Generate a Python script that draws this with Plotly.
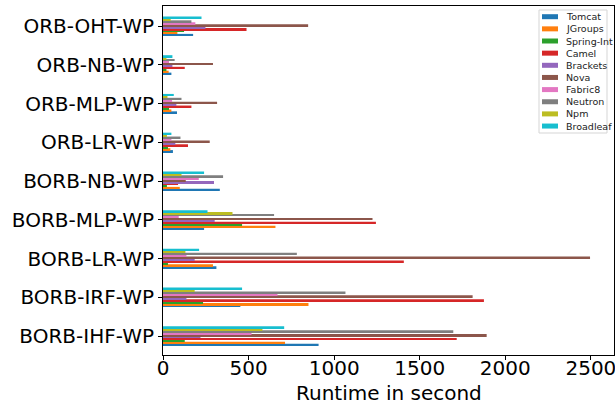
import plotly.graph_objects as go

categories = ["BORB-IHF-WP", "BORB-IRF-WP", "BORB-LR-WP", "BORB-MLP-WP", "BORB-NB-WP",
              "ORB-LR-WP", "ORB-MLP-WP", "ORB-NB-WP", "ORB-OHT-WP"]

tomcat = [909, 452, 312, 240, 332, 58, 82, 49, 176]
jgroups = [713, 850, 292, 657, 98, 43, 49, 33, 84]
spring_int = [127, 234, 29, 462, 23, 29, 35, 20, 123]
camel = [1716, 1875, 1407, 1244, 88, 146, 166, 127, 488]
brackets = [219, 137, 185, 302, 298, 72, 78, 55, 248]
nova = [1891, 1809, 2495, 1224, 133, 273, 316, 292, 848]
fabric8 = [517, 669, 137, 92, 209, 49, 53, 35, 189]
neutron = [1696, 1066, 782, 649, 351, 102, 108, 68, 166]
npm = [581, 185, 131, 406, 108, 23, 26, 20, 45]
broadleaf = [708, 462, 211, 260, 240, 49, 63, 55, 225]

series = [
    ("Tomcat", tomcat, "#1f77b4"),
    ("JGroups", jgroups, "#ff7f0e"),
    ("Spring-Int", spring_int, "#2ca02c"),
    ("Camel", camel, "#d62728"),
    ("Brackets", brackets, "#9467bd"),
    ("Nova", nova, "#8c564b"),
    ("Fabric8", fabric8, "#e377c2"),
    ("Neutron", neutron, "#7f7f7f"),
    ("Npm", npm, "#bcbd22"),
    ("Broadleaf", broadleaf, "#17becf"),
]

W, H = 615, 408
L, R, T, B = 163, 1, 6, 53
pw, ph = W - L - R, H - T - B


def px_x(x):
    return (x - L) / pw


def px_y(y):
    return (H - B - y) / ph


fig = go.Figure()
for name, vals, color in series:
    fig.add_trace(go.Bar(
        y=list(range(len(categories))),
        x=vals,
        name=name,
        orientation="h",
        marker=dict(color=color, line=dict(width=0)),
        showlegend=False,
    ))

# matplotlib-style legend box (compact)
shapes = [dict(type="rect", xref="paper", yref="paper",
               x0=px_x(539), x1=px_x(607), y0=px_y(133), y1=px_y(10),
               fillcolor="white", line=dict(color="#d5d5d5", width=1), layer="above")]
annotations = []
for i, (name, _, color) in enumerate(series):
    yc = 16.7 + 12.15 * i
    shapes.append(dict(type="rect", xref="paper", yref="paper",
                       x0=px_x(542), x1=px_x(558), y0=px_y(yc + 2.5), y1=px_y(yc - 2.5),
                       fillcolor=color, line=dict(width=0), layer="above"))
    annotations.append(dict(xref="paper", yref="paper", x=px_x(564), y=px_y(yc),
                            text=name, showarrow=False, xanchor="left", yanchor="middle",
                            font=dict(size=9.5, color="#222")))

# x-axis title placed like matplotlib's xlabel
annotations.append(dict(xref="paper", yref="paper", x=0.5, y=px_y(393),
                        text="Runtime in second", showarrow=False,
                        xanchor="center", yanchor="middle",
                        font=dict(size=20, color="black")))

fig.update_layout(
    width=W,
    height=H,
    margin=dict(l=L, r=R, t=T, b=B, autoexpand=False),
    plot_bgcolor="white",
    paper_bgcolor="white",
    barmode="group",
    bargap=0.5,
    bargroupgap=0,
    font=dict(family="DejaVu Sans", color="black"),
    shapes=shapes,
    annotations=annotations,
)
fig.update_xaxes(
    range=[0, 2635],
    tickvals=[0, 500, 1000, 1500, 2000, 2500],
    tickfont=dict(size=20),
    ticklabeloverflow="allow",
    ticklabelstandoff=-9,
    showgrid=False, zeroline=False,
    showline=True, linecolor="black", linewidth=1, mirror=True,
    ticks="outside", ticklen=4, tickcolor="black",
    automargin=False,
)
fig.update_yaxes(
    range=[-0.49, 8.52],
    tickvals=list(range(len(categories))),
    ticktext=categories,
    tickfont=dict(size=20),
    showgrid=False, zeroline=False,
    showline=True, linecolor="black", linewidth=1, mirror=True,
    ticks="outside", ticklen=4, tickcolor="black",
    automargin=False,
)

fig.write_html("out.html", config={"displayModeBar": False},
               post_script="document.body.style.margin='0';")
